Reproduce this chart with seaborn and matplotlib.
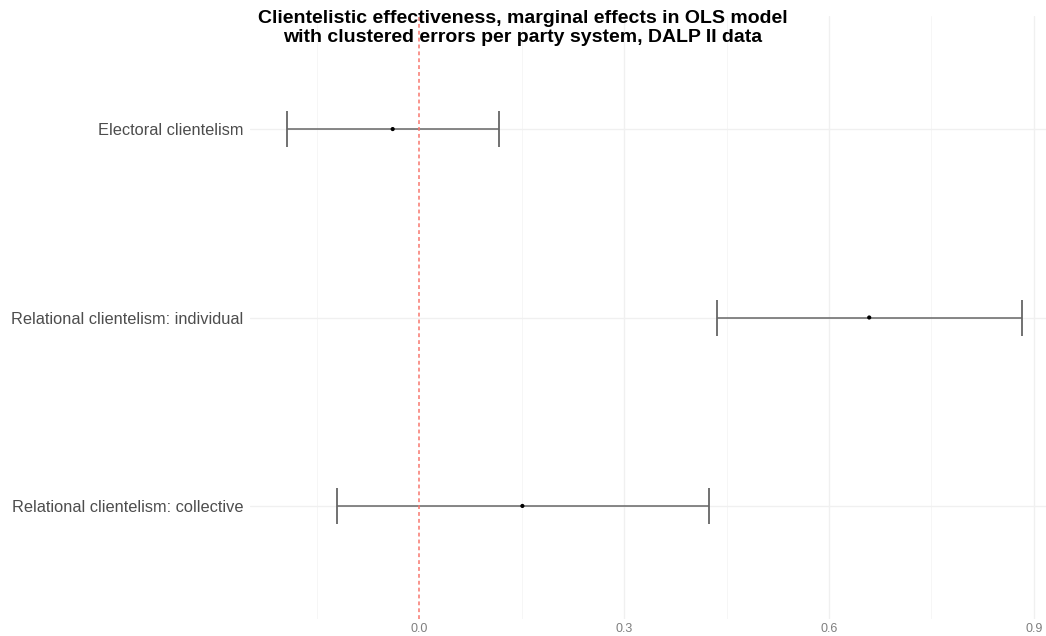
import matplotlib
matplotlib.use("Agg")
import matplotlib.pyplot as plt
import seaborn as sns
import pandas as pd

# data
terms = ["Electoral clientelism",
         "Relational clientelism: individual",
         "Relational clientelism: collective"]
estimate = [-0.039, 0.659, 0.151]
conf_low = [-0.194, 0.436, -0.121]
conf_high = [0.116, 0.883, 0.424]
x_ticks = [0.0, 0.3, 0.6, 0.9]
x_minor = [-0.15, 0.15, 0.45, 0.75]

df = pd.DataFrame({"term": terms, "estimate": estimate,
                   "low": conf_low, "high": conf_high})

sns.set_theme(style="white")
plt.rcParams["font.family"] = ["Liberation Sans", "DejaVu Sans"]

fig = plt.figure(figsize=(10.46, 6.36), dpi=100)
ax = fig.add_axes([250 / 1046, 17 / 636, 809 / 1046, 603 / 636])

# grid like theme_minimal
for v in x_ticks[1:]:
    ax.axvline(v, color="#F0F0F0", lw=1.0, zorder=0)
for v in x_minor:
    ax.axvline(v, color="#F5F5F5", lw=0.6, zorder=0)

ax.errorbar(df["estimate"], df["term"],
            xerr=[df["estimate"] - df["low"], df["high"] - df["estimate"]],
            fmt="none", ecolor="#666666", elinewidth=1.1, capsize=13.3,
            capthick=1.3, zorder=2)
for i in range(len(terms)):
    ax.axhline(i, color="#F0F0F0", lw=1.0, zorder=0)
sns.scatterplot(data=df, x="estimate", y="term", color="black", s=9,
                edgecolor="none", ax=ax, zorder=3)

# reference line at zero
ax.axvline(0, color="#F8766D", lw=1.1, ls=(0, (2.5, 2)), zorder=4)

ax.set_xlim(-0.248, 0.937)
ax.set_ylim(2.6, -0.6)
ax.set_xticks(x_ticks)
ax.set_xticklabels([f"{v:.1f}" for v in x_ticks])
ax.tick_params(axis="x", labelsize=9, colors="#7F7F7F", length=0, pad=3)
ax.tick_params(axis="y", labelsize=11.8, colors="#4D4D4D", length=0, pad=5)
ax.set_xlabel("")
ax.set_ylabel("")
for s in ax.spines.values():
    s.set_visible(False)

fig.text(0.5, 1 - 10 / 636, "Clientelistic effectiveness, marginal effects in OLS model\n"
         "with clustered errors per party system, DALP II data",
         ha="center", va="top", fontsize=14, fontweight="bold",
         linespacing=1.15, color="black")

fig.savefig("out.png", dpi=100)
